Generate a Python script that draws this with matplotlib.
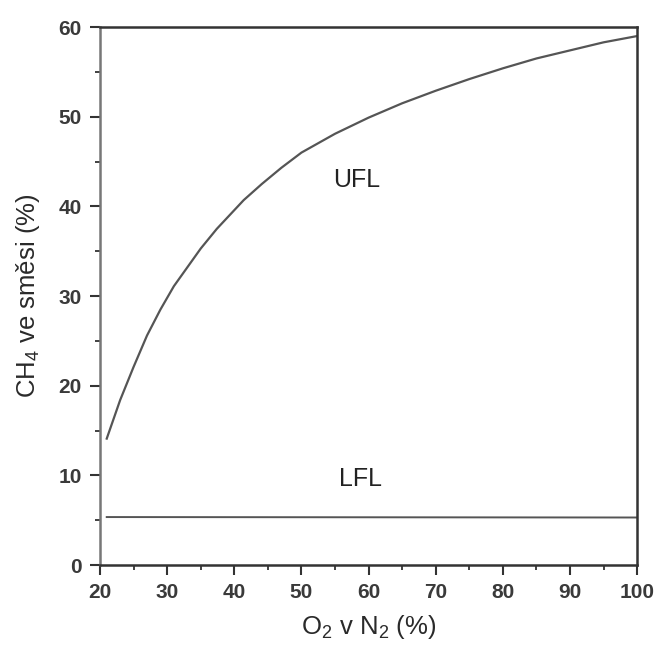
import matplotlib
matplotlib.use('Agg')
import matplotlib.pyplot as plt
from matplotlib.ticker import MultipleLocator

plt.rcParams['font.family'] = ['Liberation Sans', 'DejaVu Sans']
plt.rcParams['mathtext.fontset'] = 'custom'
plt.rcParams['mathtext.rm'] = 'Liberation Sans'

# UFL curve (O2 in N2 %, CH4 %)
ufl_x = [21, 23, 25, 27, 29, 31, 33, 35, 37.4, 41.4, 44.1, 47, 50, 55, 60, 65, 70, 75, 80, 85, 90, 95, 100]
ufl_y = [14.1, 18.4, 22.1, 25.6, 28.5, 31.1, 33.2, 35.3, 37.5, 40.7, 42.5, 44.3, 46.0, 48.1, 49.9, 51.5, 52.9, 54.2, 55.4, 56.5, 57.4, 58.3, 59.0]
# LFL roughly flat
lfl_x = [21, 100]
lfl_y = [5.35, 5.3]

fig = plt.figure(figsize=(6.55, 6.45), dpi=100)
ax = fig.add_axes([0.1527, 0.124, 0.82, 0.834])

ax.plot(ufl_x, ufl_y, color='#555555', lw=1.6)
ax.plot(lfl_x, lfl_y, color='#555555', lw=1.4)
ax.text(58.3, 42.9, 'UFL', fontsize=18, color='#222222', ha='center', va='center')
ax.text(58.8, 9.6, 'LFL', fontsize=18, color='#222222', ha='center', va='center')

ax.set_xlim(20, 100)
ax.set_ylim(0, 60)
ax.xaxis.set_major_locator(MultipleLocator(10))
ax.xaxis.set_minor_locator(MultipleLocator(5))
ax.yaxis.set_major_locator(MultipleLocator(10))
ax.yaxis.set_minor_locator(MultipleLocator(5))
ax.tick_params(which='major', direction='out', length=7, width=1.5, color='#333333',
               labelsize=15, labelcolor='#3a3a3a', pad=6)
ax.tick_params(which='minor', direction='out', length=3.5, width=1.3, color='#333333')
ax.tick_params(top=False, right=False, which='both')
for lab in ax.get_xticklabels() + ax.get_yticklabels():
    lab.set_fontweight('bold')
for s in ax.spines.values():
    s.set_color('#333333')
    s.set_linewidth(1.8)
ax.spines['left'].set_color('#777777')

ax.set_xlabel(r'O$\mathregular{_2}$ v N$\mathregular{_2}$ (%)', fontsize=18.5, color='#2a2a2a', labelpad=8)
ax.set_ylabel(r'CH$\mathregular{_4}$ ve směsi (%)', fontsize=18.5, color='#2a2a2a', labelpad=12)

fig.savefig('out.png', dpi=100)
